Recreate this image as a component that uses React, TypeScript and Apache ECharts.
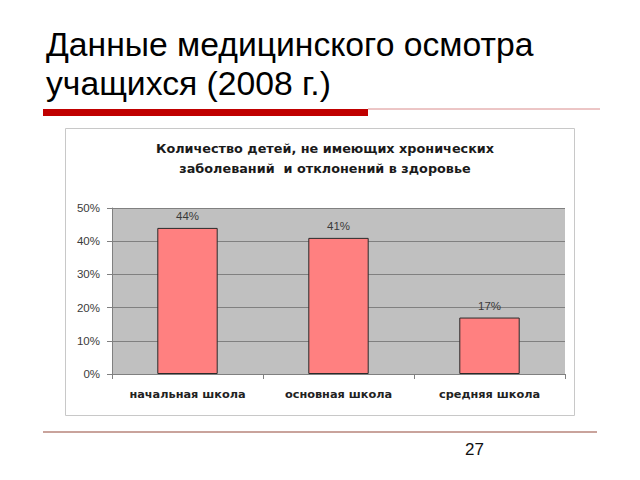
import React, { useEffect, useRef } from "react";
import * as echarts from "echarts";

const slideTitleLines = ["Данные медицинского осмотра", "учащихся (2008 г.)"];
const chartTitle = "Количество детей, не имеющих хронических\nзаболеваний  и отклонений в здоровье";
const categories = ["начальная школа", "основная школа", "средняя школа"];
const values = [44, 41, 17];
const yTicks = { min: 0, max: 50, interval: 10 };
const pageNumber = "27";

export default function App() {
  const ref = useRef<HTMLDivElement>(null);
  useEffect(() => {
    document.body.style.margin = "0";
    const chart = echarts.init(ref.current!, null, { renderer: "svg" });
    chart.setOption({
      animation: false,
      backgroundColor: "#ffffff",
      title: {
        text: chartTitle,
        left: 320,
        top: 133,
        textAlign: "center",
        textStyle: {
          fontFamily: "DejaVu Sans",
          fontWeight: "bold",
          fontSize: 12.8,
          color: "#1a1a1a",
          lineHeight: 20,
        },
      },
      graphic: [
        {
          type: "text",
          left: 46,
          top: 27,
          style: {
            text: slideTitleLines[0],
            font: "33.7px 'Liberation Sans', Arial, sans-serif",
            fill: "#000000",
          },
        },
        {
          type: "text",
          left: 46,
          top: 66,
          style: {
            text: slideTitleLines[1],
            font: "33.7px 'Liberation Sans', Arial, sans-serif",
            fill: "#000000",
          },
        },
        {
          type: "line",
          shape: { x1: 368, y1: 109, x2: 600, y2: 109 },
          style: { stroke: "#d98c8c", lineWidth: 1 },
        },
        {
          type: "rect",
          shape: { x: 43, y: 109, width: 325, height: 7 },
          style: { fill: "#c00000" },
        },
        {
          type: "rect",
          z: -10,
          shape: { x: 65.5, y: 128.5, width: 509, height: 287 },
          style: { fill: "#ffffff", stroke: "#c8c8c8", lineWidth: 1 },
        },
        {
          type: "line",
          shape: { x1: 43, y1: 432, x2: 597, y2: 432 },
          style: { stroke: "#c9a39c", lineWidth: 2 },
        },
        {
          type: "text",
          left: 465,
          top: 441,
          style: {
            text: pageNumber,
            font: "17px 'Liberation Sans', Arial, sans-serif",
            fill: "#111111",
          },
        },
      ],
      grid: {
        left: 112,
        top: 208,
        width: 453,
        height: 166,
        show: true,
        backgroundColor: "#c0c0c0",
        borderWidth: 0,
      },
      xAxis: {
        type: "category",
        data: categories,
        axisLine: { show: true, lineStyle: { color: "#808080", width: 1 } },
        axisTick: { show: true, length: 5, lineStyle: { color: "#808080" } },
        axisLabel: {
          interval: 0,
          hideOverlap: false,
          margin: 15,
          fontFamily: "DejaVu Sans",
          fontWeight: "bold",
          fontSize: 11.3,
          color: "#222222",
        },
      },
      yAxis: {
        type: "value",
        min: yTicks.min,
        max: yTicks.max,
        interval: yTicks.interval,
        axisLine: { show: true, lineStyle: { color: "#808080", width: 1 } },
        axisTick: { show: true, length: 5, lineStyle: { color: "#808080" } },
        splitLine: { show: true, lineStyle: { color: "#808080", width: 1 } },
        axisLabel: {
          formatter: "{value}%",
          margin: 12,
          fontFamily: "Liberation Sans",
          fontSize: 11.5,
          color: "#3a3a3a",
        },
      },
      series: [
        {
          type: "bar",
          data: values,
          barWidth: "40%",
          itemStyle: { color: "#ff8080", borderColor: "#2a2a2a", borderWidth: 1 },
          label: {
            show: true,
            position: "top",
            distance: 6,
            formatter: "{c}%",
            fontFamily: "Liberation Sans",
            fontSize: 11.5,
            color: "#3a3a3a",
          },
        },
      ],
    });
    return () => chart.dispose();
  }, []);
  return (
    <div
      ref={ref}
      style={{ position: "fixed", left: 0, top: 0, width: 640, height: 480 }}
    />
  );
}
